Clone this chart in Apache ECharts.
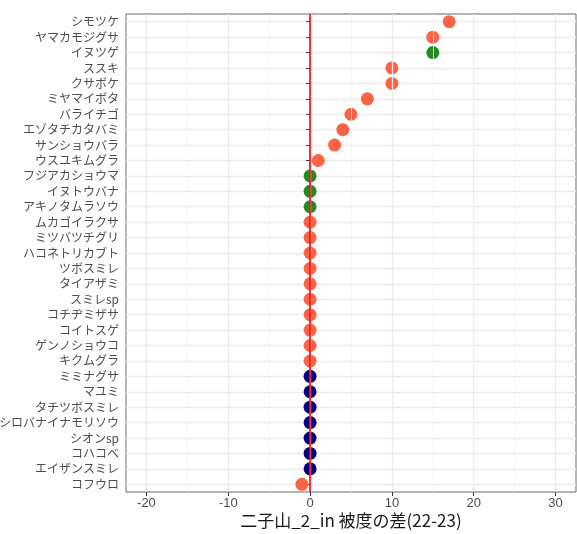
<!DOCTYPE html>
<html>
<head>
<meta charset="utf-8">
<script src="https://cdn.jsdelivr.net/npm/echarts@6/dist/echarts.min.js"></script>
<style>
  html, body { margin: 0; padding: 0; background: #fff; }
  #chart { width: 577px; height: 534px; }
</style>
</head>
<body>
<div id="chart"></div>
<script>
// Species, listed top to bottom
const species = [
  'シモツケ', 'ヤマカモジグサ', 'イヌツゲ', 'ススキ', 'クサボケ', 'ミヤマイボタ',
  'バライチゴ', 'エゾタチカタバミ', 'サンショウバラ', 'ウスユキムグラ',
  'フジアカショウマ', 'イヌトウバナ', 'アキノタムラソウ', 'ムカゴイラクサ',
  'ミツバツチグリ', 'ハコネトリカブト', 'ツボスミレ', 'タイアザミ', 'スミレsp',
  'コチヂミザサ', 'コイトスゲ', 'ゲンノショウコ', 'キクムグラ', 'ミミナグサ',
  'マユミ', 'タチツボスミレ', 'シロバナイナモリソウ', 'シオンsp', 'コハコベ',
  'エイザンスミレ', 'コフウロ'
];

// Cover difference (2022 - 2023) for each species
const coverDiff = [
  17, 15, 15, 10, 10, 7, 5, 4, 3, 1,
  0, 0, 0, 0, 0, 0, 0, 0, 0, 0,
  0, 0, 0, 0, 0, 0, 0, 0, 0, 0, -1
];

// Group code per species (1, 2, 3)
const group = [
  1, 1, 2, 1, 1, 1, 1, 1, 1, 1,
  2, 2, 2, 1, 1, 1, 1, 1, 1, 1,
  1, 1, 1, 3, 3, 3, 3, 3, 3, 3, 1
];

// Axis settings
const xTicks = [-20, -10, 0, 10, 20, 30];
const xMinorTicks = [-15, -5, 5, 15, 25];
const xTitle = '二子山_2_in 被度の差(22-23)';

const groupColor = { 1: '#FF6347', 2: '#228B22', 3: '#000080' };

const points = species.map((s, i) => ({
  value: [coverDiff[i], s],
  itemStyle: { color: groupColor[group[i]], opacity: 1 }
}));

const chart = echarts.init(document.getElementById('chart'), null, { renderer: 'canvas' });

const gridLines = [
  ...xMinorTicks.map(v => ({ xAxis: v, lineStyle: { color: '#F2F2F2', width: 0.8, type: 'solid' } })),
  ...xTicks.map(v => ({ xAxis: v, lineStyle: { color: '#EBEBEB', width: 1.3, type: 'solid' } }))
];

chart.setOption({
  animation: false,
  backgroundColor: '#ffffff',
  textStyle: { fontFamily: '"Noto Sans CJK JP", "Noto Sans", sans-serif' },
  // x-axis title, centred under the plot panel
  title: {
    text: xTitle,
    left: 351,
    top: 512,
    textAlign: 'center',
    padding: 0,
    textStyle: {
      color: '#1A1A1A', fontSize: 17, fontWeight: 'normal',
      fontFamily: '"Noto Sans CJK JP", sans-serif'
    }
  },
  grid: {
    left: 126, right: 1, top: 14, bottom: 42,
    outerBoundsMode: 'none',
    containLabel: false,
    show: true, borderColor: '#6B6B6B', borderWidth: 1, backgroundColor: 'transparent'
  },
  xAxis: {
    type: 'value',
    min: -22.5, max: 32.5,
    interval: 10,
    axisLine: { show: false },
    axisTick: { show: true, length: 4, lineStyle: { color: '#333333' }, customValues: xTicks },
    axisLabel: {
      color: '#4D4D4D', fontSize: 13, margin: 5,
      fontFamily: 'Arial, "Liberation Sans", sans-serif',
      customValues: xTicks
    },
    splitLine: { show: false }
  },
  yAxis: {
    type: 'category',
    data: species,
    inverse: true,
    axisLine: { show: false },
    axisTick: { show: true, alignWithLabel: true, length: 4, lineStyle: { color: '#333333' } },
    axisLabel: { color: '#4D4D4D', fontSize: 12, margin: 7, interval: 0 },
    splitLine: { show: true, alignWithLabel: true, lineStyle: { color: '#EBEBEB', width: 1.3 } }
  },
  series: [
    {
      type: 'scatter',
      name: 'grid',
      data: [],
      silent: true,
      z: 1,
      markLine: {
        silent: true, symbol: 'none', label: { show: false },
        animation: false, data: gridLines
      }
    },
    {
      type: 'scatter',
      data: points,
      symbolSize: 13,
      z: 3
    },
    {
      type: 'scatter',
      name: 'zero',
      data: [],
      z: 5,
      markLine: {
        silent: true, symbol: 'none', label: { show: false }, animation: false,
        lineStyle: { color: '#FF0000', width: 1.6, type: 'solid' },
        data: [{ xAxis: 0 }]
      }
    }
  ]
});
</script>
</body>
</html>
